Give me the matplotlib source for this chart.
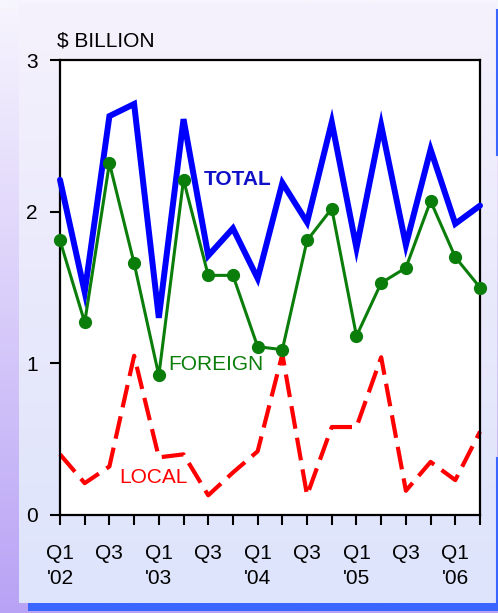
import numpy as np
import matplotlib
matplotlib.use("Agg")
import matplotlib.pyplot as plt
from matplotlib.colors import LinearSegmentedColormap

# quarterly values, Q1 2002 .. Q2 2006 ($ billion)
quarters = list(range(18))
total = [2.21, 1.47, 2.63, 2.71, 1.30, 2.61, 1.71, 1.89, 1.56, 2.19,
         1.93, 2.59, 1.76, 2.57, 1.78, 2.41, 1.92, 2.04]
foreign = [1.81, 1.27, 2.32, 1.66, 0.92, 2.21, 1.58, 1.58, 1.11, 1.09,
           1.81, 2.02, 1.18, 1.53, 1.63, 2.07, 1.70, 1.50]
local = [0.40, 0.21, 0.32, 1.05, 0.38, 0.40, 0.13, 0.28, 0.42, 1.06,
         0.13, 0.58, 0.58, 1.04, 0.16, 0.35, 0.23, 0.55]
tick_labels = ["Q1\n'02", "", "Q3", "", "Q1\n'03", "", "Q3", "", "Q1\n'04", "",
               "Q3", "", "Q1\n'05", "", "Q3", "", "Q1\n'06", ""]

plt.rcParams['font.family'] = ['Liberation Sans', 'DejaVu Sans']

W, H = 498, 613
fig = plt.figure(figsize=(W / 100, H / 100), dpi=100)


def px_axes(x0, y0, x1, y1, **kw):
    # axes from pixel box (top-left origin)
    return fig.add_axes([x0 / W, 1 - y1 / H, (x1 - x0) / W, (y1 - y0) / H], **kw)


# page background: light at top, purple at bottom
bg = fig.add_axes([0, 0, 1, 1])
cm_bg = LinearSegmentedColormap.from_list("bg", ["#f7f5fe", "#d9cdfa", "#b8a2f5"])
bg.imshow(np.linspace(0, 1, 256).reshape(-1, 1), aspect="auto", cmap=cm_bg,
          extent=[0, 1, 0, 1], origin="upper")
bg.axis("off")

# blue bar under the panel and thin blue edge on the right
bar = px_axes(28, 603, 498, 611)
bar.set_facecolor("#3a66ff")
bar.set_xticks([]); bar.set_yticks([])
for s in bar.spines.values():
    s.set_visible(False)
fig.add_artist(plt.Line2D([496.5 / W, 496.5 / W], [1 - 10 / H, 1 - 155 / H],
                          color="#3a66ff", lw=1.5))
fig.add_artist(plt.Line2D([496.5 / W, 496.5 / W], [1 - 458 / H, 1 - 605 / H],
                          color="#3a66ff", lw=1.5))

# panel gradient
panel = px_axes(19, 3, 496, 603)
cm_panel = LinearSegmentedColormap.from_list("panel", ["#f6f2fd", "#e9e9fc", "#dde4fb"])
panel.imshow(np.linspace(0, 1, 256).reshape(-1, 1), aspect="auto", cmap=cm_panel,
             extent=[0, 1, 0, 1], origin="upper")
panel.axis("off")

# main chart
ax = px_axes(60, 60, 480, 515)
ax.set_facecolor("white")

ax.plot(quarters, total, color="#0000ff", lw=4.3, solid_joinstyle="miter",
        solid_capstyle="round", zorder=3, clip_on=False)
ax.plot(quarters, foreign, color="#0a7d0a", lw=2.2, marker="o", markersize=8.5,
        zorder=4, clip_on=False)
ax.plot(quarters, local, color="#ff0000", lw=3.0, dashes=(5.5, 2.2), zorder=2,
        clip_on=False)

ax.text(5.8, 2.21, "TOTAL", color="#1010c8", fontsize=15, fontweight="bold",
        va="center", ha="left")
ax.text(4.37, 0.99, "FOREIGN", color="#0a7d0a", fontsize=15, va="center", ha="left")
ax.text(2.4, 0.25, "LOCAL", color="#ff0000", fontsize=15, va="center", ha="left")

ax.set_xlim(0, 17)
ax.set_ylim(0, 3)
ax.set_yticks([0, 1, 2, 3])
ax.set_yticklabels(["0", "1", "2", "3"], fontsize=15)
ax.set_xticks(quarters)
ax.set_xticklabels(tick_labels, fontsize=15, linespacing=1.4, va="top")
ax.tick_params(axis="both", direction="out", length=7, width=1.5, color="black")
ax.tick_params(axis="y", pad=9)
ax.tick_params(axis="x", pad=14)
for s in ax.spines.values():
    s.set_linewidth(1.6)
    s.set_color("black")

fig.text(57 / W, 1 - 41 / H, "$ BILLION", fontsize=15, va="center", ha="left")

fig.savefig("out.png", dpi=100)
